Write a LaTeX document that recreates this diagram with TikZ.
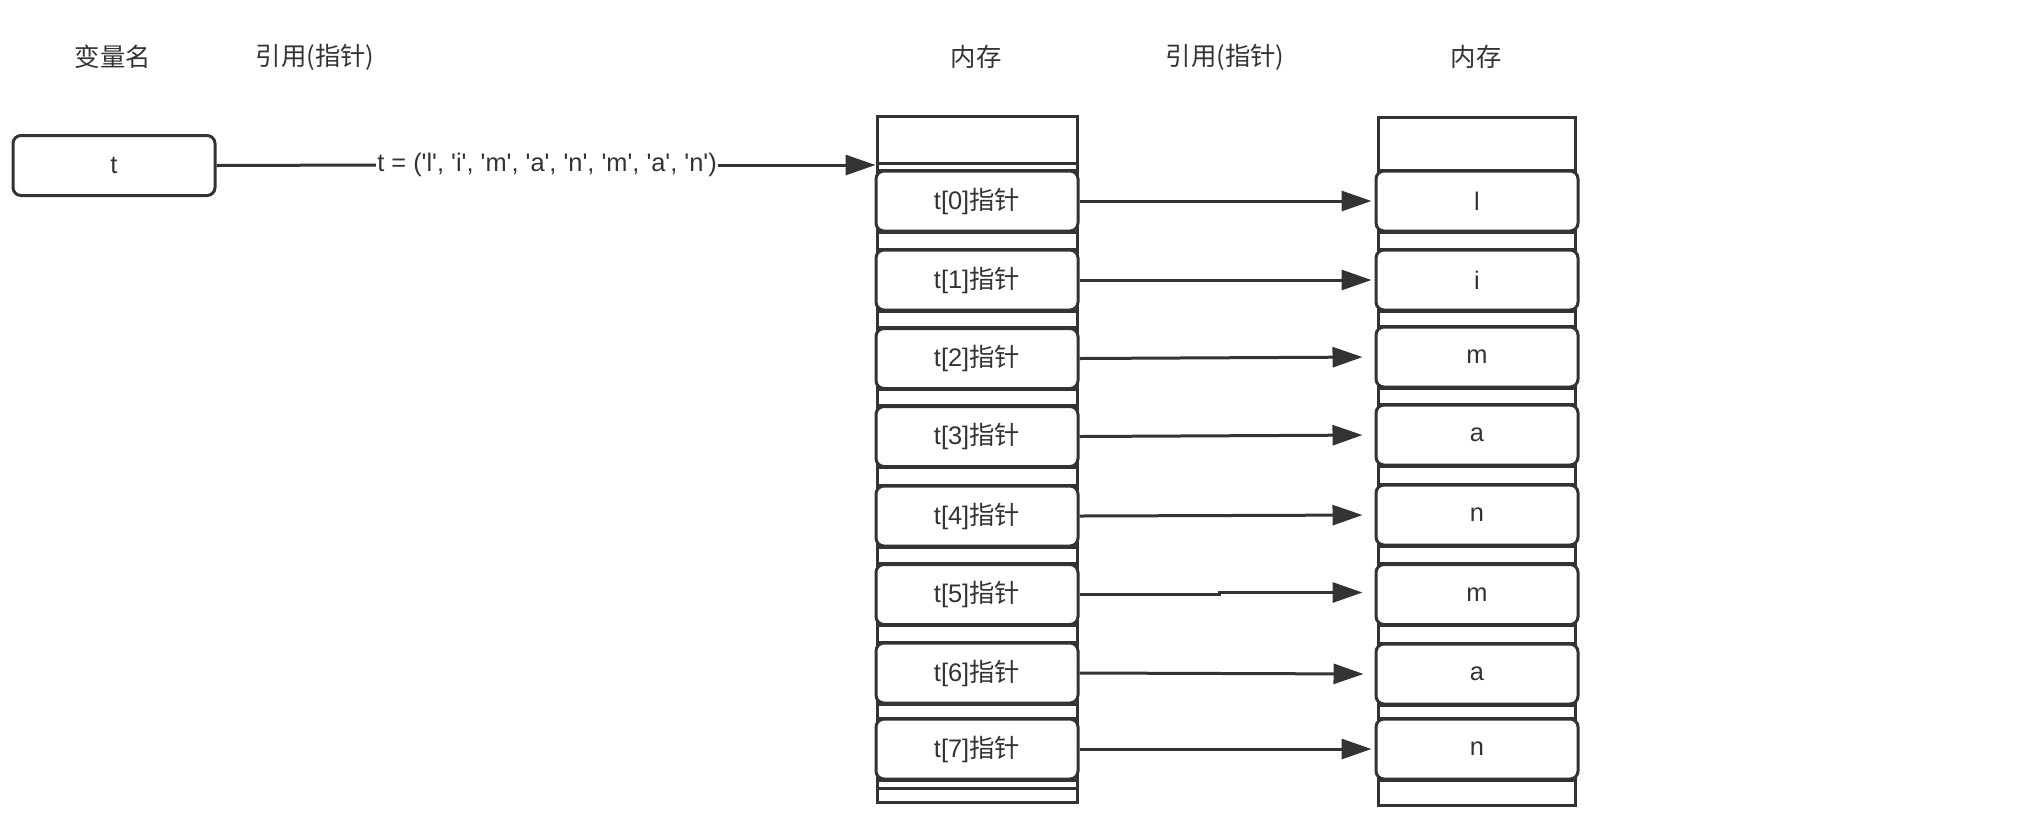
\documentclass[tikz,border=0pt]{standalone}
\usepackage{fontspec}
\setmainfont{Liberation Sans}
\newfontfamily\cjk{Noto Sans CJK SC}
\usetikzlibrary{arrows.meta}
\definecolor{ink}{HTML}{333333}
\newcommand\qq[1]{\textquotesingle#1\textquotesingle}
\begin{document}
\begin{tikzpicture}[x=0.5pt,y=-0.5pt,
  every node/.style={font=\fontsize{12.7}{15}\selectfont, text=ink},
  box/.style={draw=ink, line width=1.5pt, rounded corners=4pt, fill=white,
    minimum width=101pt, minimum height=30pt, inner sep=0pt},
  col/.style={draw=ink, line width=1.5pt, inner sep=0pt},
  div/.style={draw=ink, line width=1.5pt},
  link/.style={draw=ink, line width=1.5pt},
  arr/.style={draw=ink, line width=1.5pt, -{Triangle[length=15pt,width=10pt]}},
]
\useasboundingbox (0,0) rectangle (2022,816);

% headers
\node (h1) at (113,57) {\cjk 变量名};
\node (h2) at (315,57) {\cjk 引用(指针)};
\node (h3) at (976,57) {\cjk 内存};
\node (h4) at (1225,57) {\cjk 引用(指针)};
\node (h5) at (1476,57) {\cjk 内存};

% variable box
\node[box] (t) at (114,165.5) {t};

% columns
\node[col, minimum width=100pt, minimum height=343pt] (colL) at (977,459) {};
\node[col, minimum width=98.75pt, minimum height=344pt] (colR) at (1477,461) {};

% left column dividers
\foreach \c in {201,280,358.5,436.5,516,594.5,673,749}{
  \draw[div] (877,\c-31) -- (1077,\c-31);
  \draw[div] (877,\c+31) -- (1077,\c+31);
}
\draw[div] (877,163) -- (1077,163);
\draw[div] (877,788) -- (1077,788);

% right column dividers
\foreach \c in {201,280,357,435,515,594.5,674,749}{
  \draw[div] (1378.5,\c-31) -- (1576,\c-31);
  \draw[div] (1378.5,\c+31) -- (1576,\c+31);
}

% pointer boxes
\node[box] (p0) at (977,201)   {t[0]{\cjk 指针}};
\node[box] (p1) at (977,280)   {t[1]{\cjk 指针}};
\node[box] (p2) at (977,358.5) {t[2]{\cjk 指针}};
\node[box] (p3) at (977,436.5) {t[3]{\cjk 指针}};
\node[box] (p4) at (977,516)   {t[4]{\cjk 指针}};
\node[box] (p5) at (977,594.5) {t[5]{\cjk 指针}};
\node[box] (p6) at (977,673)   {t[6]{\cjk 指针}};
\node[box] (p7) at (977,749)   {t[7]{\cjk 指针}};

% value boxes
\node[box] (v0) at (1477,201)   {l};
\node[box] (v1) at (1477,280)   {i};
\node[box] (v2) at (1477,357)   {m};
\node[box] (v3) at (1477,435)   {a};
\node[box] (v4) at (1477,515)   {n};
\node[box] (v5) at (1477,594.5) {m};
\node[box] (v6) at (1477,674)   {a};
\node[box] (v7) at (1477,749)   {n};

% main reference
\node[fill=white, inner sep=0.5pt] (lab) at (547,165)
  {t = (\qq{l}, \qq{i}, \qq{m}, \qq{a}, \qq{n}, \qq{m}, \qq{a}, \qq{n})};
\draw[link] (t.east) -- (lab.west);
\draw[arr] (lab.east) -- (colL.west |- lab.east);

% pointer arrows
\draw[arr, shorten >=1.5pt] (p0.east) -- (v0.west);
\draw[arr, shorten >=1.5pt] (p1.east) -- (v1.west);
\draw[arr, shorten >=6pt] (p2.east) -- (v2.west);
\draw[arr, shorten >=6pt] (p3.east) -- (v3.west);
\draw[arr, shorten >=6pt] (p4.east) -- (v4.west);
\coordinate (j5) at (1219,592.5);
\draw[arr, shorten >=6pt] (p5.east) -- (p5.east -| j5) -- (j5) -- (j5 -| v5.west);
\draw[arr, shorten >=5.5pt] (p6.east) -- (v6.west);
\draw[arr, shorten >=1.5pt] (p7.east) -- (v7.west);
\end{tikzpicture}
\end{document}
